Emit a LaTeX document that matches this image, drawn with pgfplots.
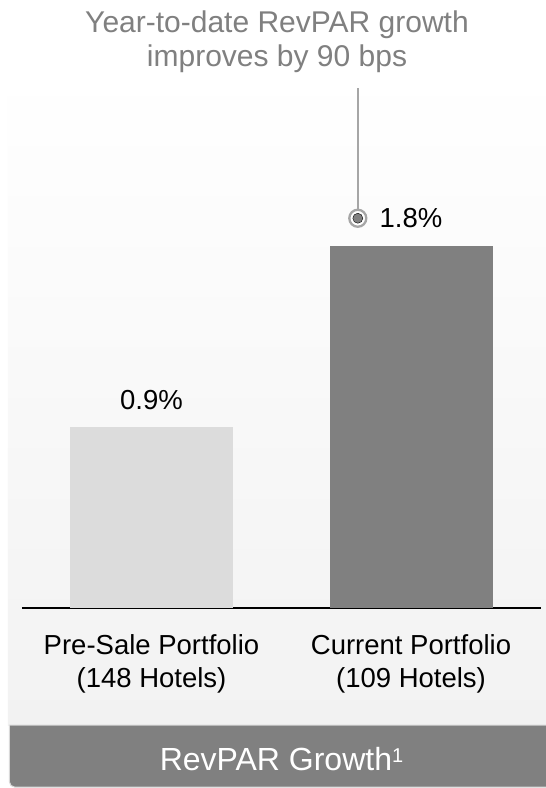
\documentclass[border=0pt]{standalone}
\usepackage{pgfplots}
\pgfplotsset{compat=1.18}
\usepackage{fontspec}
\setmainfont{Liberation Sans}
\definecolor{barlight}{HTML}{DCDCDC}
\definecolor{bardark}{HTML}{808080}
\definecolor{titlegray}{HTML}{808080}
\definecolor{ringgray}{HTML}{A6A6A6}
\definecolor{panelbot}{HTML}{F2F2F2}
\definecolor{bandborder}{HTML}{D9D9D9}
\begin{document}
\begin{tikzpicture}
\begin{scope}[x=1bp,y=1bp,shift={(-21.75bp,-180bp)}]
\path[use as bounding box] (0,0) rectangle (546,788);
\fill[white] (0,0) rectangle (546,788);
% panel background
\shade[top color=white, bottom color=panelbot] (8,63) rectangle (546,718);
% bottom band
\filldraw[fill=bardark, draw=bandborder, line width=1bp] (552,63) -- (9.5,63) -- (9.5,6) arc[start angle=180, end angle=270, radius=5] -- (552,1) -- cycle;
\node[white, anchor=base, font=\fontsize{32bp}{36bp}\selectfont] at (281.5,17.3) {RevPAR Growth\raisebox{8.6bp}{\fontsize{20bp}{20bp}\selectfont 1}};
% title
\node[text=titlegray, anchor=base, font=\fontsize{30bp}{34bp}\selectfont] at (277,755) {Year-to-date RevPAR growth};
\node[text=titlegray, anchor=base, font=\fontsize{30bp}{34bp}\selectfont] at (277,721) {improves by 90 bps};
\end{scope}
\begin{axis}[
  scale only axis, width=519bp, height=482.4bp,
  xmin=-0.5, xmax=1.5, ymin=0, ymax=2.4,
  axis x line*=bottom, axis y line=none,
  x axis line style={-, black, line width=1.3bp},
  xtick={0,1}, ytick=\empty,
  xtick style={draw=none},
  xticklabels={{Pre-Sale Portfolio\\(148 Hotels)},{Current Portfolio\\(109 Hotels)}},
  xticklabel style={align=center, text=black, font=\fontsize{27.5bp}{33bp}\selectfont, yshift=-23bp},
  clip=false,
]
\addplot[ybar, bar width=163bp, fill=barlight, draw=none] coordinates {(0,0.9)};
\addplot[ybar, bar width=163bp, fill=bardark, draw=none] coordinates {(1,1.8)};
\addplot[ringgray, line width=1.5bp] coordinates {(0.795,1.939) (0.795,2.587)};
\addplot[only marks, mark=*, mark size=8.5bp, mark options={fill=white, draw=ringgray, line width=2.3bp}] coordinates {(0.795,1.939)};
\addplot[only marks, mark=*, mark size=5bp, mark options={fill=bardark, draw=none}] coordinates {(0.795,1.939)};
\node[anchor=base, font=\fontsize{27.5bp}{33bp}\selectfont, yshift=17.7bp] at (axis cs:0,0.9) {0.9\%};
\node[anchor=base, font=\fontsize{27.5bp}{33bp}\selectfont, yshift=18.3bp] at (axis cs:1,1.8) {1.8\%};
\end{axis}
\end{tikzpicture}
\end{document}
